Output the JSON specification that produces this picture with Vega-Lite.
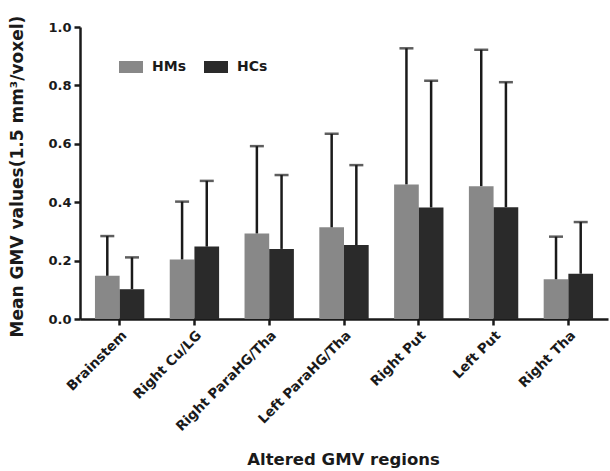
{
  "$schema": "https://vega.github.io/schema/vega-lite/v6.json",
  "width": 528,
  "height": 292,
  "autosize": "none",
  "padding": {"left": 80, "top": 27, "right": 2, "bottom": 152},
  "background": "white",
  "config": {
    "view": {"stroke": null},
    "font": "DejaVu Sans",
    "axis": {"labelFont": "DejaVu Sans", "titleFont": "DejaVu Sans", "labelFontWeight": "bold", "titleFontWeight": "bold", "labelColor": "#1a1a1a", "titleColor": "#1a1a1a", "domainColor": "#1a1a1a", "tickColor": "#1a1a1a", "domainWidth": 2.5, "tickWidth": 2.5, "tickSize": 6, "grid": false}
  },
  "data": {
    "values": [
      {"region": "Brainstem", "group": "HMs", "mean": 0.148, "upper": 0.284},
      {"region": "Brainstem", "group": "HCs", "mean": 0.102, "upper": 0.211},
      {"region": "Right Cu/LG", "group": "HMs", "mean": 0.204, "upper": 0.402},
      {"region": "Right Cu/LG", "group": "HCs", "mean": 0.248, "upper": 0.473},
      {"region": "Right ParaHG/Tha", "group": "HMs", "mean": 0.293, "upper": 0.592},
      {"region": "Right ParaHG/Tha", "group": "HCs", "mean": 0.240, "upper": 0.493},
      {"region": "Left ParaHG/Tha", "group": "HMs", "mean": 0.314, "upper": 0.634},
      {"region": "Left ParaHG/Tha", "group": "HCs", "mean": 0.253, "upper": 0.527},
      {"region": "Right Put", "group": "HMs", "mean": 0.461, "upper": 0.927},
      {"region": "Right Put", "group": "HCs", "mean": 0.382, "upper": 0.816},
      {"region": "Left Put", "group": "HMs", "mean": 0.455, "upper": 0.922},
      {"region": "Left Put", "group": "HCs", "mean": 0.383, "upper": 0.811},
      {"region": "Right Tha", "group": "HMs", "mean": 0.136, "upper": 0.282},
      {"region": "Right Tha", "group": "HCs", "mean": 0.155, "upper": 0.332}
    ]
  },
  "encoding": {
    "x": {
      "field": "region", "type": "nominal",
      "sort": ["Brainstem", "Right Cu/LG", "Right ParaHG/Tha", "Left ParaHG/Tha", "Right Put", "Left Put", "Right Tha"],
      "scale": {"paddingInner": 0.34, "paddingOuter": 0.2},
      "axis": {"title": "Altered GMV regions", "labelAngle": -45, "labelFontSize": 13.5, "labelPadding": 3, "titleFontSize": 16.5, "titleY": 145, "titleBaseline": "alphabetic", "titleX": 263}
    },
    "xOffset": {"field": "group", "type": "nominal", "sort": ["HMs", "HCs"], "scale": {"paddingInner": 0, "paddingOuter": 0}}
  },
  "layer": [
    {
      "mark": {"type": "bar"},
      "encoding": {
        "y": {
          "field": "mean", "type": "quantitative",
          "scale": {"domain": [0, 1], "nice": false},
          "axis": {"title": "Mean GMV values(1.5 mm³/voxel)", "values": [0, 0.2, 0.4, 0.6, 0.8, 1.0], "format": ".1f", "labelFontSize": 13, "titleFontSize": 17, "titleX": -63, "titleY": 149, "titleBaseline": "middle", "labelPadding": 3}
        },
        "color": {
          "field": "group", "type": "nominal", "sort": ["HMs", "HCs"],
          "scale": {"domain": ["HMs", "HCs"], "range": ["#888888", "#2a2a2a"]},
          "legend": {"title": null, "orient": "none", "legendX": 39, "legendY": 28, "direction": "horizontal", "symbolType": "M-1,-0.5H1V0.5H-1Z", "symbolSize": 576, "symbolStrokeWidth": 0, "labelFontSize": 14, "labelFontWeight": "bold", "labelFont": "DejaVu Sans", "labelColor": "#1a1a1a", "labelOffset": 9, "columnPadding": 18}
        }
      }
    },
    {
      "mark": {"type": "rule", "color": "#1a1a1a", "strokeWidth": 2.5},
      "encoding": {
        "y": {"field": "mean", "type": "quantitative"},
        "y2": {"field": "upper"}
      }
    },
    {
      "mark": {"type": "tick", "color": "#1a1a1a", "thickness": 2.5, "size": 14, "orient": "horizontal"},
      "encoding": {
        "y": {"field": "upper", "type": "quantitative"}
      }
    }
  ]
}
